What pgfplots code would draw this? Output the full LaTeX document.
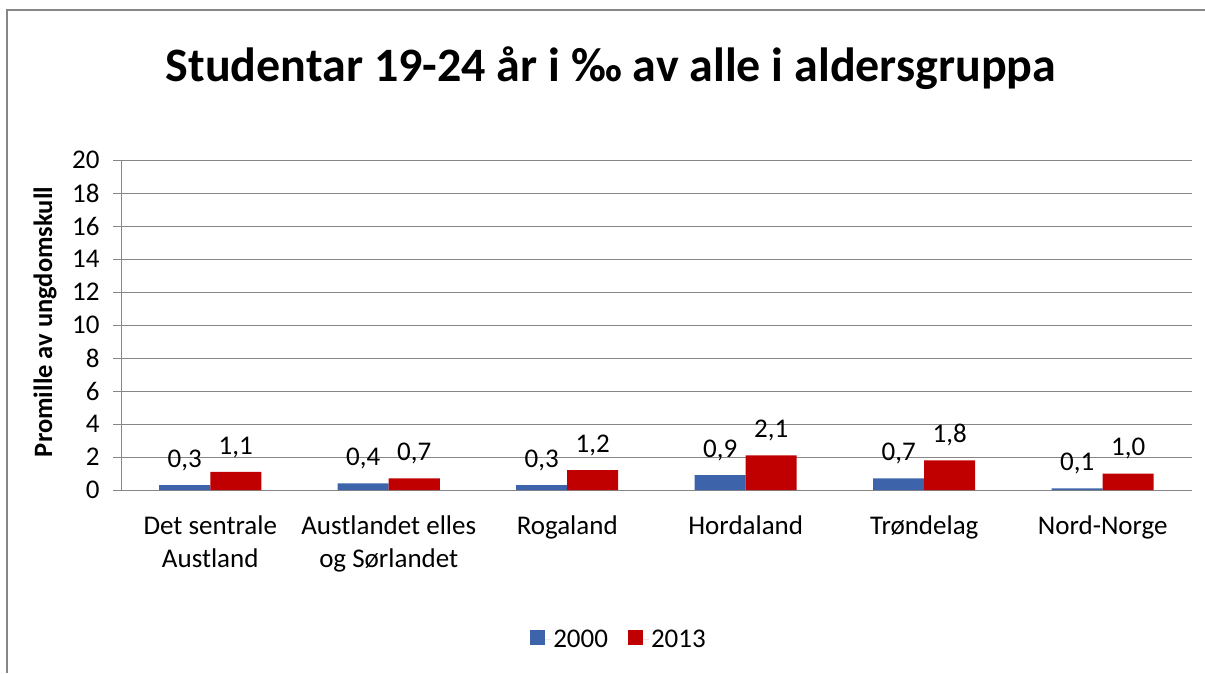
\documentclass[border=0pt]{standalone}
\usepackage{pgfplots}
\pgfplotsset{compat=1.18}
\usepackage{fontspec}
\setmainfont{Carlito}
\definecolor{blueA}{RGB}{61,100,171}
\definecolor{redB}{RGB}{192,0,0}
\definecolor{gridgray}{RGB}{134,134,134}
\pgfplotsset{sqlegend/.style={legend image code/.code={\fill[##1] (0pt,-5pt) rectangle (15pt,10pt); \path (0pt,0pt) -- (21pt,0pt);}}}
\begin{document}
\begin{tikzpicture}[x=1pt,y=1pt]
\path[use as bounding box] (0,0) rectangle (1205,673);
\draw[gridgray, line width=1.2pt] (7,0) -- (7,663) -- (1205,663);
\node[font=\fontsize{48}{57}\selectfont\bfseries] at (611,605) {Studentar 19-24 år i ‰ av alle i aldersgruppa};
\node[rotate=90, font=\fontsize{26.5}{30}\selectfont\bfseries] at (45,351) {Promille av ungdomskull};
\begin{axis}[
  at={(121pt,183pt)}, anchor=south west,
  scale only axis, width=1071pt, height=330pt,
  xmin=-0.5, xmax=5.5, ymin=0, ymax=20,
  ytick={0,2,...,20},
  xtick={0,1,2,3,4,5},
  xticklabels={{Det sentrale\\Austland},{Austlandet elles\\og Sørlandet},Rogaland,Hordaland,Trøndelag,Nord-Norge},
  axis x line*=bottom, axis y line*=left,
  axis line style={gridgray, line width=1pt, -},
  ymajorgrids, grid style={gridgray, line width=1pt},
  ytick style={gridgray, line width=1pt},
  xtick style={draw=none},
  tick align=outside, major tick length=8pt,
  /pgf/number format/assume math mode=true,
  tick label style={font=\fontsize{27}{33}\selectfont},
  yticklabel style={xshift=-10pt},
  xticklabel style={align=center, yshift=-14pt},
  ybar=0pt, bar width=51pt,
  nodes near coords={\pgfmathprintnumber[use comma,fixed,fixed zerofill,precision=1]{\pgfplotspointmeta}},
  every node near coord/.append style={font=\fontsize{27}{31}\selectfont, inner sep=0pt, yshift=14pt, text=black},
  legend style={at={(0.465,-0.4545)}, anchor=center, draw=none, legend columns=2,
    font=\fontsize{27}{31}\selectfont,
    /tikz/every even column/.append style={column sep=18pt}},
]
\addplot[fill=blueA, draw=none, sqlegend] coordinates {(0,0.3) (1,0.4) (2,0.3) (3,0.9) (4,0.7) (5,0.1)};
\addplot[fill=redB, draw=none, sqlegend] coordinates {(0,1.1) (1,0.7) (2,1.2) (3,2.1) (4,1.8) (5,1.0)};
\legend{2000,2013}
\end{axis}
\end{tikzpicture}
\end{document}
